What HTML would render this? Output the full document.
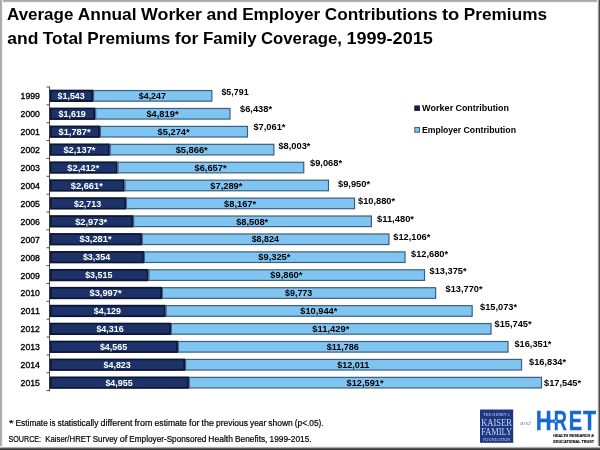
<!DOCTYPE html>
<html lang="en"><head><meta charset="utf-8"><title>Average Annual Worker and Employer Contributions to Premiums</title>
<style>
html,body{margin:0;padding:0;background:#fff;}
body{width:600px;height:450px;overflow:hidden;position:relative;}
svg{position:absolute;left:0;top:0;display:block;}
text{font-family:"Liberation Sans",sans-serif;}
.b{font-weight:bold;}
.s text{font-family:"Liberation Serif",serif;}
</style></head><body>
<svg width="600" height="450" viewBox="0 0 600 450">
<rect x="0" y="0" width="600" height="450" fill="#ffffff"/>
<defs><filter id="soft" x="0" y="0" width="600" height="450" filterUnits="userSpaceOnUse"><feGaussianBlur stdDeviation="0.35"/></filter></defs>
<g filter="url(#soft)">

<text class="b" y="19.80" font-size="17.0" fill="#000" ><tspan x="7.00" textLength="66.38" lengthAdjust="spacingAndGlyphs">Average</tspan> <tspan x="77.87" textLength="58.68" lengthAdjust="spacingAndGlyphs">Annual</tspan> <tspan x="141.05" textLength="61.00" lengthAdjust="spacingAndGlyphs">Worker</tspan> <tspan x="206.54" textLength="31.12" lengthAdjust="spacingAndGlyphs">and</tspan> <tspan x="242.15" textLength="78.17" lengthAdjust="spacingAndGlyphs">Employer</tspan> <tspan x="324.81" textLength="112.68" lengthAdjust="spacingAndGlyphs">Contributions</tspan> <tspan x="441.97" textLength="17.37" lengthAdjust="spacingAndGlyphs">to</tspan> <tspan x="463.83" textLength="83.17" lengthAdjust="spacingAndGlyphs">Premiums</tspan></text>
<text class="b" y="43.80" font-size="17.0" fill="#000" ><tspan x="7.30" textLength="31.05" lengthAdjust="spacingAndGlyphs">and</tspan> <tspan x="42.82" textLength="40.07" lengthAdjust="spacingAndGlyphs">Total</tspan> <tspan x="87.38" textLength="82.98" lengthAdjust="spacingAndGlyphs">Premiums</tspan> <tspan x="174.83" textLength="23.66" lengthAdjust="spacingAndGlyphs">for</tspan> <tspan x="202.97" textLength="53.57" lengthAdjust="spacingAndGlyphs">Family</tspan> <tspan x="261.02" textLength="80.90" lengthAdjust="spacingAndGlyphs">Coverage,</tspan> <tspan x="346.40" textLength="86.40" lengthAdjust="spacingAndGlyphs">1999-2015</tspan></text>
<g stroke="#4a4a4a" stroke-width="1" fill="none"><line x1="49.5" y1="86.5" x2="49.5" y2="391.1"/>
<line x1="46.5" y1="87.00" x2="49.5" y2="87.00"/>
<line x1="46.5" y1="104.86" x2="49.5" y2="104.86"/>
<line x1="46.5" y1="122.72" x2="49.5" y2="122.72"/>
<line x1="46.5" y1="140.58" x2="49.5" y2="140.58"/>
<line x1="46.5" y1="158.44" x2="49.5" y2="158.44"/>
<line x1="46.5" y1="176.30" x2="49.5" y2="176.30"/>
<line x1="46.5" y1="194.16" x2="49.5" y2="194.16"/>
<line x1="46.5" y1="212.02" x2="49.5" y2="212.02"/>
<line x1="46.5" y1="229.88" x2="49.5" y2="229.88"/>
<line x1="46.5" y1="247.74" x2="49.5" y2="247.74"/>
<line x1="46.5" y1="265.60" x2="49.5" y2="265.60"/>
<line x1="46.5" y1="283.46" x2="49.5" y2="283.46"/>
<line x1="46.5" y1="301.32" x2="49.5" y2="301.32"/>
<line x1="46.5" y1="319.18" x2="49.5" y2="319.18"/>
<line x1="46.5" y1="337.04" x2="49.5" y2="337.04"/>
<line x1="46.5" y1="354.90" x2="49.5" y2="354.90"/>
<line x1="46.5" y1="372.76" x2="49.5" y2="372.76"/>
<line x1="46.5" y1="390.62" x2="49.5" y2="390.62"/>
</g>
<rect x="50.60" y="90.55" width="41.78" height="10.6" fill="#1a3367" stroke="#091330" stroke-width="1.7"/>
<rect x="93.58" y="90.55" width="118.25" height="10.6" fill="#80c5f2" stroke="#3c5f7c" stroke-width="1.2"/>
<text y="99.25" font-size="8.6" fill="#000" stroke="#000" stroke-width="0.35"><tspan x="20.64" textLength="19.26" lengthAdjust="spacingAndGlyphs">1999</tspan></text>
<text class="b" y="99.05" font-size="9.1" fill="#fff" ><tspan x="57.53" textLength="27.22" lengthAdjust="spacingAndGlyphs">$1,543</tspan></text>
<text class="b" y="99.05" font-size="9.1" fill="#000" ><tspan x="138.74" textLength="27.22" lengthAdjust="spacingAndGlyphs">$4,247</tspan></text>
<text class="b" y="94.60" font-size="9.1" fill="#000" ><tspan x="221.40" textLength="27.22" lengthAdjust="spacingAndGlyphs">$5,791</tspan></text>
<rect x="50.60" y="108.47" width="43.91" height="10.6" fill="#1a3367" stroke="#091330" stroke-width="1.7"/>
<rect x="95.71" y="108.47" width="134.26" height="10.6" fill="#80c5f2" stroke="#3c5f7c" stroke-width="1.2"/>
<text y="117.17" font-size="8.6" fill="#000" stroke="#000" stroke-width="0.35"><tspan x="20.64" textLength="19.26" lengthAdjust="spacingAndGlyphs">2000</tspan></text>
<text class="b" y="116.97" font-size="9.1" fill="#fff" ><tspan x="58.59" textLength="27.22" lengthAdjust="spacingAndGlyphs">$1,619</tspan></text>
<text class="b" y="116.97" font-size="9.1" fill="#000" ><tspan x="146.45" textLength="32.08" lengthAdjust="spacingAndGlyphs">$4,819*</tspan></text>
<text class="b" y="112.00" font-size="9.1" fill="#000" ><tspan x="240.00" textLength="32.08" lengthAdjust="spacingAndGlyphs">$6,438*</tspan></text>
<rect x="50.60" y="126.40" width="48.62" height="10.6" fill="#1a3367" stroke="#091330" stroke-width="1.7"/>
<rect x="100.42" y="126.40" width="147.03" height="10.6" fill="#80c5f2" stroke="#3c5f7c" stroke-width="1.2"/>
<text y="135.10" font-size="8.6" fill="#000" stroke="#000" stroke-width="0.35"><tspan x="20.64" textLength="19.26" lengthAdjust="spacingAndGlyphs">2001</tspan></text>
<text class="b" y="134.90" font-size="9.1" fill="#fff" ><tspan x="58.52" textLength="32.08" lengthAdjust="spacingAndGlyphs">$1,787*</tspan></text>
<text class="b" y="134.90" font-size="9.1" fill="#000" ><tspan x="157.55" textLength="32.08" lengthAdjust="spacingAndGlyphs">$5,274*</tspan></text>
<text class="b" y="130.00" font-size="9.1" fill="#000" ><tspan x="253.40" textLength="32.08" lengthAdjust="spacingAndGlyphs">$7,061*</tspan></text>
<rect x="50.60" y="144.32" width="58.44" height="10.6" fill="#1a3367" stroke="#091330" stroke-width="1.7"/>
<rect x="110.24" y="144.32" width="163.63" height="10.6" fill="#80c5f2" stroke="#3c5f7c" stroke-width="1.2"/>
<text y="153.03" font-size="8.6" fill="#000" stroke="#000" stroke-width="0.35"><tspan x="20.64" textLength="19.26" lengthAdjust="spacingAndGlyphs">2002</tspan></text>
<text class="b" y="152.82" font-size="9.1" fill="#fff" ><tspan x="63.43" textLength="32.08" lengthAdjust="spacingAndGlyphs">$2,137*</tspan></text>
<text class="b" y="152.82" font-size="9.1" fill="#000" ><tspan x="175.66" textLength="32.08" lengthAdjust="spacingAndGlyphs">$5,866*</tspan></text>
<text class="b" y="149.00" font-size="9.1" fill="#000" ><tspan x="278.40" textLength="32.08" lengthAdjust="spacingAndGlyphs">$8,003*</tspan></text>
<rect x="50.60" y="162.25" width="66.15" height="10.6" fill="#1a3367" stroke="#091330" stroke-width="1.7"/>
<rect x="117.95" y="162.25" width="185.79" height="10.6" fill="#80c5f2" stroke="#3c5f7c" stroke-width="1.2"/>
<text y="170.95" font-size="8.6" fill="#000" stroke="#000" stroke-width="0.35"><tspan x="20.64" textLength="19.26" lengthAdjust="spacingAndGlyphs">2003</tspan></text>
<text class="b" y="170.75" font-size="9.1" fill="#fff" ><tspan x="67.29" textLength="32.08" lengthAdjust="spacingAndGlyphs">$2,412*</tspan></text>
<text class="b" y="170.75" font-size="9.1" fill="#000" ><tspan x="194.46" textLength="32.08" lengthAdjust="spacingAndGlyphs">$6,657*</tspan></text>
<text class="b" y="166.40" font-size="9.1" fill="#000" ><tspan x="310.00" textLength="32.08" lengthAdjust="spacingAndGlyphs">$9,068*</tspan></text>
<rect x="50.60" y="180.17" width="73.14" height="10.6" fill="#1a3367" stroke="#091330" stroke-width="1.7"/>
<rect x="124.94" y="180.17" width="203.54" height="10.6" fill="#80c5f2" stroke="#3c5f7c" stroke-width="1.2"/>
<text y="188.88" font-size="8.6" fill="#000" stroke="#000" stroke-width="0.35"><tspan x="20.64" textLength="19.26" lengthAdjust="spacingAndGlyphs">2004</tspan></text>
<text class="b" y="188.67" font-size="9.1" fill="#fff" ><tspan x="70.78" textLength="32.08" lengthAdjust="spacingAndGlyphs">$2,661*</tspan></text>
<text class="b" y="188.67" font-size="9.1" fill="#000" ><tspan x="210.32" textLength="32.08" lengthAdjust="spacingAndGlyphs">$7,289*</tspan></text>
<text class="b" y="187.00" font-size="9.1" fill="#000" ><tspan x="338.00" textLength="32.08" lengthAdjust="spacingAndGlyphs">$9,950*</tspan></text>
<rect x="50.60" y="198.10" width="74.59" height="10.6" fill="#1a3367" stroke="#091330" stroke-width="1.7"/>
<rect x="126.39" y="198.10" width="228.17" height="10.6" fill="#80c5f2" stroke="#3c5f7c" stroke-width="1.2"/>
<text y="206.80" font-size="8.6" fill="#000" stroke="#000" stroke-width="0.35"><tspan x="20.64" textLength="19.26" lengthAdjust="spacingAndGlyphs">2005</tspan></text>
<text class="b" y="206.60" font-size="9.1" fill="#fff" ><tspan x="73.94" textLength="27.22" lengthAdjust="spacingAndGlyphs">$2,713</tspan></text>
<text class="b" y="206.60" font-size="9.1" fill="#000" ><tspan x="224.09" textLength="32.08" lengthAdjust="spacingAndGlyphs">$8,167*</tspan></text>
<text class="b" y="204.40" font-size="9.1" fill="#000" ><tspan x="358.00" textLength="37.02" lengthAdjust="spacingAndGlyphs">$10,880*</tspan></text>
<rect x="50.60" y="216.02" width="81.89" height="10.6" fill="#1a3367" stroke="#091330" stroke-width="1.7"/>
<rect x="133.69" y="216.02" width="237.70" height="10.6" fill="#80c5f2" stroke="#3c5f7c" stroke-width="1.2"/>
<text y="224.72" font-size="8.6" fill="#000" stroke="#000" stroke-width="0.35"><tspan x="20.64" textLength="19.26" lengthAdjust="spacingAndGlyphs">2006</tspan></text>
<text class="b" y="224.52" font-size="9.1" fill="#fff" ><tspan x="75.15" textLength="32.08" lengthAdjust="spacingAndGlyphs">$2,973*</tspan></text>
<text class="b" y="224.52" font-size="9.1" fill="#000" ><tspan x="236.15" textLength="32.08" lengthAdjust="spacingAndGlyphs">$8,508*</tspan></text>
<text class="b" y="221.60" font-size="9.1" fill="#000" ><tspan x="377.00" textLength="37.02" lengthAdjust="spacingAndGlyphs">$11,480*</tspan></text>
<rect x="50.60" y="233.95" width="90.53" height="10.6" fill="#1a3367" stroke="#091330" stroke-width="1.7"/>
<rect x="142.33" y="233.95" width="246.62" height="10.6" fill="#80c5f2" stroke="#3c5f7c" stroke-width="1.2"/>
<text y="242.65" font-size="8.6" fill="#000" stroke="#000" stroke-width="0.35"><tspan x="20.64" textLength="19.26" lengthAdjust="spacingAndGlyphs">2007</tspan></text>
<text class="b" y="242.45" font-size="9.1" fill="#fff" ><tspan x="79.47" textLength="32.08" lengthAdjust="spacingAndGlyphs">$3,281*</tspan></text>
<text class="b" y="242.45" font-size="9.1" fill="#000" ><tspan x="251.68" textLength="27.22" lengthAdjust="spacingAndGlyphs">$8,824</tspan></text>
<text class="b" y="240.00" font-size="9.1" fill="#000" ><tspan x="393.25" textLength="37.02" lengthAdjust="spacingAndGlyphs">$12,106*</tspan></text>
<rect x="50.60" y="251.88" width="92.57" height="10.6" fill="#1a3367" stroke="#091330" stroke-width="1.7"/>
<rect x="144.37" y="251.88" width="260.68" height="10.6" fill="#80c5f2" stroke="#3c5f7c" stroke-width="1.2"/>
<text y="260.57" font-size="8.6" fill="#000" stroke="#000" stroke-width="0.35"><tspan x="20.64" textLength="19.26" lengthAdjust="spacingAndGlyphs">2008</tspan></text>
<text class="b" y="260.38" font-size="9.1" fill="#fff" ><tspan x="82.93" textLength="27.22" lengthAdjust="spacingAndGlyphs">$3,354</tspan></text>
<text class="b" y="260.38" font-size="9.1" fill="#000" ><tspan x="258.32" textLength="32.08" lengthAdjust="spacingAndGlyphs">$9,325*</tspan></text>
<text class="b" y="257.40" font-size="9.1" fill="#000" ><tspan x="411.00" textLength="37.02" lengthAdjust="spacingAndGlyphs">$12,680*</tspan></text>
<rect x="50.60" y="269.80" width="97.09" height="10.6" fill="#1a3367" stroke="#091330" stroke-width="1.7"/>
<rect x="148.89" y="269.80" width="275.65" height="10.6" fill="#80c5f2" stroke="#3c5f7c" stroke-width="1.2"/>
<text y="278.50" font-size="8.6" fill="#000" stroke="#000" stroke-width="0.35"><tspan x="20.64" textLength="19.26" lengthAdjust="spacingAndGlyphs">2009</tspan></text>
<text class="b" y="278.30" font-size="9.1" fill="#fff" ><tspan x="85.18" textLength="27.22" lengthAdjust="spacingAndGlyphs">$3,515</tspan></text>
<text class="b" y="278.30" font-size="9.1" fill="#000" ><tspan x="270.33" textLength="32.08" lengthAdjust="spacingAndGlyphs">$9,860*</tspan></text>
<text class="b" y="274.00" font-size="9.1" fill="#000" ><tspan x="429.60" textLength="37.02" lengthAdjust="spacingAndGlyphs">$13,375*</tspan></text>
<rect x="50.60" y="287.72" width="110.61" height="10.6" fill="#1a3367" stroke="#091330" stroke-width="1.7"/>
<rect x="162.41" y="287.72" width="273.21" height="10.6" fill="#80c5f2" stroke="#3c5f7c" stroke-width="1.2"/>
<text y="296.42" font-size="8.6" fill="#000" stroke="#000" stroke-width="0.35"><tspan x="20.64" textLength="19.26" lengthAdjust="spacingAndGlyphs">2010</tspan></text>
<text class="b" y="296.22" font-size="9.1" fill="#fff" ><tspan x="89.51" textLength="32.08" lengthAdjust="spacingAndGlyphs">$3,997*</tspan></text>
<text class="b" y="296.22" font-size="9.1" fill="#000" ><tspan x="285.05" textLength="27.22" lengthAdjust="spacingAndGlyphs">$9,773</tspan></text>
<text class="b" y="292.40" font-size="9.1" fill="#000" ><tspan x="445.60" textLength="37.02" lengthAdjust="spacingAndGlyphs">$13,770*</tspan></text>
<rect x="50.60" y="305.65" width="114.31" height="10.6" fill="#1a3367" stroke="#091330" stroke-width="1.7"/>
<rect x="166.11" y="305.65" width="306.06" height="10.6" fill="#80c5f2" stroke="#3c5f7c" stroke-width="1.2"/>
<text y="314.35" font-size="8.6" fill="#000" stroke="#000" stroke-width="0.35"><tspan x="20.64" textLength="19.26" lengthAdjust="spacingAndGlyphs">2011</tspan></text>
<text class="b" y="314.15" font-size="9.1" fill="#fff" ><tspan x="93.79" textLength="27.22" lengthAdjust="spacingAndGlyphs">$4,129</tspan></text>
<text class="b" y="314.15" font-size="9.1" fill="#000" ><tspan x="300.28" textLength="37.02" lengthAdjust="spacingAndGlyphs">$10,944*</tspan></text>
<text class="b" y="310.40" font-size="9.1" fill="#000" ><tspan x="480.00" textLength="37.02" lengthAdjust="spacingAndGlyphs">$15,073*</tspan></text>
<rect x="50.60" y="323.57" width="119.56" height="10.6" fill="#1a3367" stroke="#091330" stroke-width="1.7"/>
<rect x="171.36" y="323.57" width="319.66" height="10.6" fill="#80c5f2" stroke="#3c5f7c" stroke-width="1.2"/>
<text y="332.27" font-size="8.6" fill="#000" stroke="#000" stroke-width="0.35"><tspan x="20.64" textLength="19.26" lengthAdjust="spacingAndGlyphs">2012</tspan></text>
<text class="b" y="332.07" font-size="9.1" fill="#fff" ><tspan x="96.42" textLength="27.22" lengthAdjust="spacingAndGlyphs">$4,316</tspan></text>
<text class="b" y="332.07" font-size="9.1" fill="#000" ><tspan x="312.33" textLength="37.02" lengthAdjust="spacingAndGlyphs">$11,429*</tspan></text>
<text class="b" y="327.00" font-size="9.1" fill="#000" ><tspan x="494.60" textLength="37.02" lengthAdjust="spacingAndGlyphs">$15,745*</tspan></text>
<rect x="50.60" y="341.50" width="126.54" height="10.6" fill="#1a3367" stroke="#091330" stroke-width="1.7"/>
<rect x="178.34" y="341.50" width="329.67" height="10.6" fill="#80c5f2" stroke="#3c5f7c" stroke-width="1.2"/>
<text y="350.20" font-size="8.6" fill="#000" stroke="#000" stroke-width="0.35"><tspan x="20.64" textLength="19.26" lengthAdjust="spacingAndGlyphs">2013</tspan></text>
<text class="b" y="350.00" font-size="9.1" fill="#fff" ><tspan x="99.91" textLength="27.22" lengthAdjust="spacingAndGlyphs">$4,565</tspan></text>
<text class="b" y="350.00" font-size="9.1" fill="#000" ><tspan x="326.74" textLength="32.16" lengthAdjust="spacingAndGlyphs">$11,786</tspan></text>
<text class="b" y="347.00" font-size="9.1" fill="#000" ><tspan x="514.40" textLength="37.02" lengthAdjust="spacingAndGlyphs">$16,351*</tspan></text>
<rect x="50.60" y="359.43" width="133.78" height="10.6" fill="#1a3367" stroke="#091330" stroke-width="1.7"/>
<rect x="185.58" y="359.43" width="335.98" height="10.6" fill="#80c5f2" stroke="#3c5f7c" stroke-width="1.2"/>
<text y="368.12" font-size="8.6" fill="#000" stroke="#000" stroke-width="0.35"><tspan x="20.64" textLength="19.26" lengthAdjust="spacingAndGlyphs">2014</tspan></text>
<text class="b" y="367.93" font-size="9.1" fill="#fff" ><tspan x="103.53" textLength="27.22" lengthAdjust="spacingAndGlyphs">$4,823</tspan></text>
<text class="b" y="367.93" font-size="9.1" fill="#000" ><tspan x="337.14" textLength="32.16" lengthAdjust="spacingAndGlyphs">$12,011</tspan></text>
<text class="b" y="365.40" font-size="9.1" fill="#000" ><tspan x="529.00" textLength="37.02" lengthAdjust="spacingAndGlyphs">$16,834*</tspan></text>
<rect x="50.60" y="377.35" width="137.48" height="10.6" fill="#1a3367" stroke="#091330" stroke-width="1.7"/>
<rect x="189.28" y="377.35" width="352.22" height="10.6" fill="#80c5f2" stroke="#3c5f7c" stroke-width="1.2"/>
<text y="386.05" font-size="8.6" fill="#000" stroke="#000" stroke-width="0.35"><tspan x="20.64" textLength="19.26" lengthAdjust="spacingAndGlyphs">2015</tspan></text>
<text class="b" y="385.85" font-size="9.1" fill="#fff" ><tspan x="105.38" textLength="27.22" lengthAdjust="spacingAndGlyphs">$4,955</tspan></text>
<text class="b" y="385.85" font-size="9.1" fill="#000" ><tspan x="346.53" textLength="37.02" lengthAdjust="spacingAndGlyphs">$12,591*</tspan></text>
<text class="b" y="385.60" font-size="9.1" fill="#000" ><tspan x="544.00" textLength="37.02" lengthAdjust="spacingAndGlyphs">$17,545*</tspan></text>
<rect x="414.8" y="105.9" width="4.7" height="4.7" fill="#10224e" stroke="#091330" stroke-width="0.8"/>
<text class="b" y="110.70" font-size="8.9" fill="#000" ><tspan x="422.00" textLength="31.17" lengthAdjust="spacingAndGlyphs">Worker</tspan> <tspan x="455.47" textLength="53.53" lengthAdjust="spacingAndGlyphs">Contribution</tspan></text>
<rect x="414.8" y="127.5" width="4.7" height="4.7" fill="#80c5f2" stroke="#3c5f7c" stroke-width="1"/>
<text class="b" y="132.50" font-size="8.9" fill="#000" ><tspan x="422.00" textLength="39.21" lengthAdjust="spacingAndGlyphs">Employer</tspan> <tspan x="463.46" textLength="52.54" lengthAdjust="spacingAndGlyphs">Contribution</tspan></text>
<text y="425.50" font-size="8.3" fill="#000" stroke="#000" stroke-width="0.2"><tspan x="9.00" textLength="4.56" lengthAdjust="spacingAndGlyphs">*</tspan> <tspan x="15.62" textLength="32.16" lengthAdjust="spacingAndGlyphs">Estimate</tspan> <tspan x="49.85" textLength="5.68" lengthAdjust="spacingAndGlyphs">is</tspan> <tspan x="57.59" textLength="40.90" lengthAdjust="spacingAndGlyphs">statistically</tspan> <tspan x="100.56" textLength="31.97" lengthAdjust="spacingAndGlyphs">different</tspan> <tspan x="134.60" textLength="17.96" lengthAdjust="spacingAndGlyphs">from</tspan> <tspan x="154.63" textLength="32.24" lengthAdjust="spacingAndGlyphs">estimate</tspan> <tspan x="188.94" textLength="10.61" lengthAdjust="spacingAndGlyphs">for</tspan> <tspan x="201.62" textLength="12.42" lengthAdjust="spacingAndGlyphs">the</tspan> <tspan x="216.11" textLength="31.82" lengthAdjust="spacingAndGlyphs">previous</tspan> <tspan x="250.00" textLength="16.15" lengthAdjust="spacingAndGlyphs">year</tspan> <tspan x="268.22" textLength="24.52" lengthAdjust="spacingAndGlyphs">shown</tspan> <tspan x="294.80" textLength="28.80" lengthAdjust="spacingAndGlyphs">(p&lt;.05).</tspan></text>
<text y="441.70" font-size="8.3" fill="#000" stroke="#000" stroke-width="0.2"><tspan x="8.40" textLength="32.72" lengthAdjust="spacingAndGlyphs">SOURCE:</tspan> <tspan x="45.24" textLength="45.40" lengthAdjust="spacingAndGlyphs">Kaiser/HRET</tspan> <tspan x="92.70" textLength="24.89" lengthAdjust="spacingAndGlyphs">Survey</tspan> <tspan x="119.65" textLength="7.59" lengthAdjust="spacingAndGlyphs">of</tspan> <tspan x="129.31" textLength="77.01" lengthAdjust="spacingAndGlyphs">Employer-Sponsored</tspan> <tspan x="208.38" textLength="24.53" lengthAdjust="spacingAndGlyphs">Health</tspan> <tspan x="234.97" textLength="32.48" lengthAdjust="spacingAndGlyphs">Benefits,</tspan> <tspan x="269.52" textLength="42.08" lengthAdjust="spacingAndGlyphs">1999-2015.</tspan></text>
<rect x="480" y="409.5" width="33.2" height="33.3" fill="#1d3783"/>
<g class="s" fill="#c9d5f0">
<text x="483" y="415.8" font-size="3.6" textLength="27.4" lengthAdjust="spacingAndGlyphs">THE HENRY J.</text>
<text x="481.2" y="425.6" font-size="9.4" textLength="30.8" lengthAdjust="spacingAndGlyphs">KAISER</text>
<text x="481.2" y="435.1" font-size="9.4" textLength="30.8" lengthAdjust="spacingAndGlyphs">FAMILY</text>
<text x="483" y="440.7" font-size="3.4" textLength="27.4" lengthAdjust="spacingAndGlyphs">FOUNDATION</text>
</g>
<text x="520" y="425" font-size="4.6" textLength="10.6" lengthAdjust="spacingAndGlyphs" fill="#929292" font-style="italic">and</text>
<text class="b" y="430.3" font-size="28.05" fill="#1768d4" stroke="#1768d4" stroke-width="0.4"><tspan x="535.73" textLength="15.85" lengthAdjust="spacingAndGlyphs">H</tspan><tspan x="553.68" textLength="13.20" lengthAdjust="spacingAndGlyphs">R</tspan><tspan x="568.85" textLength="13.43" lengthAdjust="spacingAndGlyphs">E</tspan><tspan x="582.96" textLength="13.07" lengthAdjust="spacingAndGlyphs">T</tspan></text>
<rect x="549.5" y="419.7" width="6" height="3" fill="#1768d4"/>
<rect x="554.9" y="420.4" width="1.7" height="1.7" fill="#cfe1fa"/>
<rect x="553.2" y="418.9" width="1.5" height="1.2" fill="#6fa3e6"/><rect x="553.2" y="422.4" width="1.5" height="1.2" fill="#6fa3e6"/>
<text class="b" x="553.3" y="436.8" font-size="3.6" textLength="40.7" lengthAdjust="spacingAndGlyphs" fill="#111" stroke="#111" stroke-width="0.15">HEALTH RESEARCH &amp;</text>
<text class="b" x="553.3" y="442.9" font-size="3.6" textLength="40.7" lengthAdjust="spacingAndGlyphs" fill="#111" stroke="#111" stroke-width="0.15">EDUCATIONAL TRUST</text>
</g>
<rect x="0" y="0" width="600" height="1" fill="#a9a9a9"/>
<rect x="0" y="1" width="600" height="1" fill="#b6b6b6"/>
<rect x="0" y="2" width="600" height="1" fill="#f0f0f0"/>
<rect x="0" y="0" width="1" height="450" fill="#a9a9a9"/>
<rect x="1" y="0" width="1" height="450" fill="#b6b6b6"/>
<rect x="2" y="0" width="1" height="450" fill="#f0f0f0"/>
<rect x="597" y="0" width="1" height="450" fill="#ececec"/>
<rect x="598" y="0" width="1" height="450" fill="#a0a0a0"/>
<rect x="599" y="0" width="1" height="450" fill="#484848"/>
<rect x="0" y="446" width="600" height="1" fill="#f4f4f4"/>
<rect x="0" y="447" width="600" height="1" fill="#b0b0b0"/>
<rect x="0" y="448" width="600" height="1" fill="#5a5a5a"/>
<rect x="0" y="449" width="600" height="1" fill="#303030"/>
</svg></body></html>
